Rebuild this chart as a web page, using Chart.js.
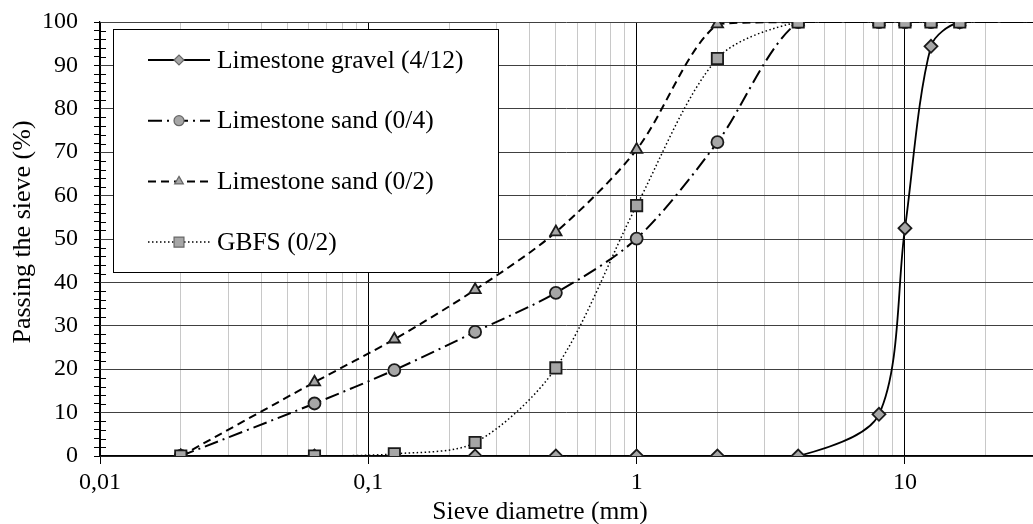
<!DOCTYPE html>
<html>
<head>
<meta charset="utf-8">
<script src="https://cdn.jsdelivr.net/npm/chart.js@4.4.1/dist/chart.umd.min.js"></script>
<style>
  html, body { margin: 0; padding: 0; background: #fff; }
  #wrap { width: 1033px; height: 524px; position: relative; }
</style>
</head>
<body>
<div id="wrap"><canvas id="gradingChart"></canvas></div>
<script>
// Sieve sizes (mm) and percentage passing for each material
const sieveSizes = [0.02, 0.063, 0.125, 0.25, 0.5, 1, 2, 4, 8, 10, 12.5, 16, 31.5];
const gravelPassing = [0, 0, 0, 0, 0, 0, 0, 0, 9.6, 52.5, 94.4, 100, 100];
const sand04Passing = [0, 12.1, 19.8, 28.6, 37.6, 50.1, 72.3, 100, 100, 100, 100, 100, 100];
const sand02Passing = [0, 17.0, 26.9, 38.3, 51.6, 70.6, 99.5, 100, 100, 100, 100, 100, 100];
const gbfsPassing = [0, 0, 0.5, 3.1, 20.3, 57.7, 91.6, 100, 100, 100, 100, 100, 100];

const seriesNames = ['Limestone gravel (4/12)', 'Limestone sand (0/4)', 'Limestone sand (0/2)', 'GBFS (0/2)'];
const xDecades = [0.01, 0.1, 1, 10]; // labelled x ticks: 0,01 0,1 1 10
const xMax = 30;
const yMax = 100;
const xTitle = 'Sieve diametre (mm)';
const yTitle = 'Passing the sieve (%)';

const serif = '"Liberation Serif", "Times New Roman", serif';
const markerFill = '#a6a6a6';

function toPoints(values) {
    return sieveSizes.map((s, i) => ({ x: s, y: values[i] }));
}
function markerRadius(r) {
    return ctx => (ctx.raw && ctx.raw.x > xMax ? 0 : r);
}

const datasets = [
    { label: seriesNames[0], data: toPoints(gravelPassing), borderColor: '#000', borderWidth: 1.8, borderDash: [],
      pointStyle: 'rectRot', pointRadius: markerRadius(6.5), order: 3 },
    { label: seriesNames[1], data: toPoints(sand04Passing), borderColor: '#000', borderWidth: 2, borderDash: [14, 5, 2, 5],
      pointStyle: 'circle', pointRadius: markerRadius(6), order: 2 },
    { label: seriesNames[2], data: toPoints(sand02Passing), borderColor: '#000', borderWidth: 2, borderDash: [8, 5],
      pointStyle: 'triangle', pointRadius: markerRadius(6.5), order: 1 },
    { label: seriesNames[3], data: toPoints(gbfsPassing), borderColor: '#000', borderWidth: 1.5, borderDash: [1.5, 2.5],
      pointStyle: 'rect', pointRadius: markerRadius(8), order: 0 }
];
datasets.forEach(d => {
    d.pointBackgroundColor = markerFill;
    d.pointBorderColor = '#1a1a1a';
    d.pointBorderWidth = 1.8;
    d.tension = 0.3;
    d.fill = false;
});

// legend inside the plot, axis titles and inner minor y ticks
const extras = {
    id: 'extras',
    beforeDatasetsDraw(chart) {
        const ctx = chart.ctx, area = chart.chartArea, y = chart.scales.y;
        ctx.save();
        ctx.strokeStyle = '#000';
        ctx.lineWidth = 1;
        y.ticks.forEach(t => {
            if (t.value % 10 === 0) return;
            const py = Math.round(y.getPixelForValue(t.value)) + 0.5;
            ctx.beginPath();
            ctx.moveTo(area.left, py);
            ctx.lineTo(area.left + 6, py);
            ctx.stroke();
        });
        ctx.restore();
    },
    afterDraw(chart) {
        const ctx = chart.ctx, area = chart.chartArea;
        ctx.save();
        const bx = area.left + 13, by = area.top + 7, bw = 385, bh = 243;
        ctx.fillStyle = '#fff';
        ctx.fillRect(bx, by, bw, bh);
        ctx.strokeStyle = '#000';
        ctx.lineWidth = 1;
        ctx.strokeRect(bx + 0.5, by + 0.5, bw, bh);

        chart.data.datasets.forEach((ds, i) => {
            const ry = by + 31 + i * 60.7;
            ctx.save();
            ctx.strokeStyle = ds.borderColor;
            ctx.lineWidth = ds.borderWidth;
            ctx.setLineDash(ds.borderDash);
            ctx.beginPath();
            ctx.moveTo(bx + 35, ry);
            ctx.lineTo(bx + 97, ry);
            ctx.stroke();
            ctx.restore();

            ctx.fillStyle = markerFill;
            ctx.strokeStyle = '#666';
            ctx.lineWidth = 1.2;
            ctx.setLineDash([]);
            Chart.helpers.drawPoint(ctx, { pointStyle: ds.pointStyle, radius: i === 3 ? 7 : 5, rotation: 0, borderWidth: 1.2 }, bx + 66, ry);

            ctx.fillStyle = '#000';
            ctx.font = '25.5px ' + serif;
            ctx.textAlign = 'left';
            ctx.textBaseline = 'middle';
            ctx.fillText(ds.label, bx + 104, ry + 1);
        });

        ctx.fillStyle = '#000';
        ctx.font = '25.5px ' + serif;
        ctx.textAlign = 'center';
        ctx.textBaseline = 'alphabetic';
        ctx.fillText(xTitle, 540, 519);

        ctx.translate(23, 232);
        ctx.rotate(-Math.PI / 2);
        ctx.font = '26px ' + serif;
        ctx.textBaseline = 'middle';
        ctx.fillText(yTitle, 0, 0);
        ctx.restore();
    }
};

new Chart(document.getElementById('gradingChart'), {
    type: 'line',
    data: { datasets: datasets },
    options: {
        responsive: true,
        maintainAspectRatio: false,
        animation: false,
        layout: { autoPadding: false, padding: { top: 22, right: 0, left: 0, bottom: 0 } },
        plugins: { legend: { display: false }, tooltip: { enabled: false } },
        scales: {
            x: {
                type: 'logarithmic',
                min: 0.01,
                max: xMax,
                afterBuildTicks: scale => {
                    const ticks = [];
                    xDecades.forEach(d => {
                        for (let m = 1; m <= 9; m++) {
                            const v = +(d * m).toPrecision(6);
                            if (v < xMax) ticks.push({ value: v });
                        }
                    });
                    scale.ticks = ticks;
                },
                afterFit: scale => {
                    scale.height = 68;
                    scale.paddingLeft = 0;
                    scale.paddingRight = 0;
                },
                ticks: {
                    autoSkip: false,
                    maxRotation: 0,
                    padding: 4,
                    color: '#000',
                    font: { family: serif, size: 24 },
                    callback: v => (xDecades.includes(v) ? String(v).replace('.', ',') : '')
                },
                grid: {
                    color: c => (xDecades.includes(c.tick.value) ? '#000' : '#c8c8c8'),
                    tickColor: c => (xDecades.includes(c.tick.value) ? '#000' : 'rgba(0,0,0,0)'),
                    tickLength: 8,
                    lineWidth: 1
                },
                border: { color: '#000', width: 1.5 },
                title: { display: false }
            },
            y: {
                min: 0,
                max: yMax,
                afterFit: scale => {
                    scale.width = 100;
                    scale.paddingTop = 0;
                    scale.paddingBottom = 0;
                },
                ticks: {
                    stepSize: 2,
                    autoSkip: false,
                    padding: 16,
                    color: '#000',
                    font: { family: serif, size: 24 },
                    callback: v => (v % 10 === 0 ? v : '')
                },
                grid: {
                    color: c => (c.tick.value % 10 === 0 ? '#404040' : 'rgba(0,0,0,0)'),
                    tickColor: '#000',
                    tickLength: 6,
                    lineWidth: 1
                },
                border: { color: '#000', width: 1.2 },
                title: { display: false }
            }
        }
    },
    plugins: [extras]
});
</script>
</body>
</html>
